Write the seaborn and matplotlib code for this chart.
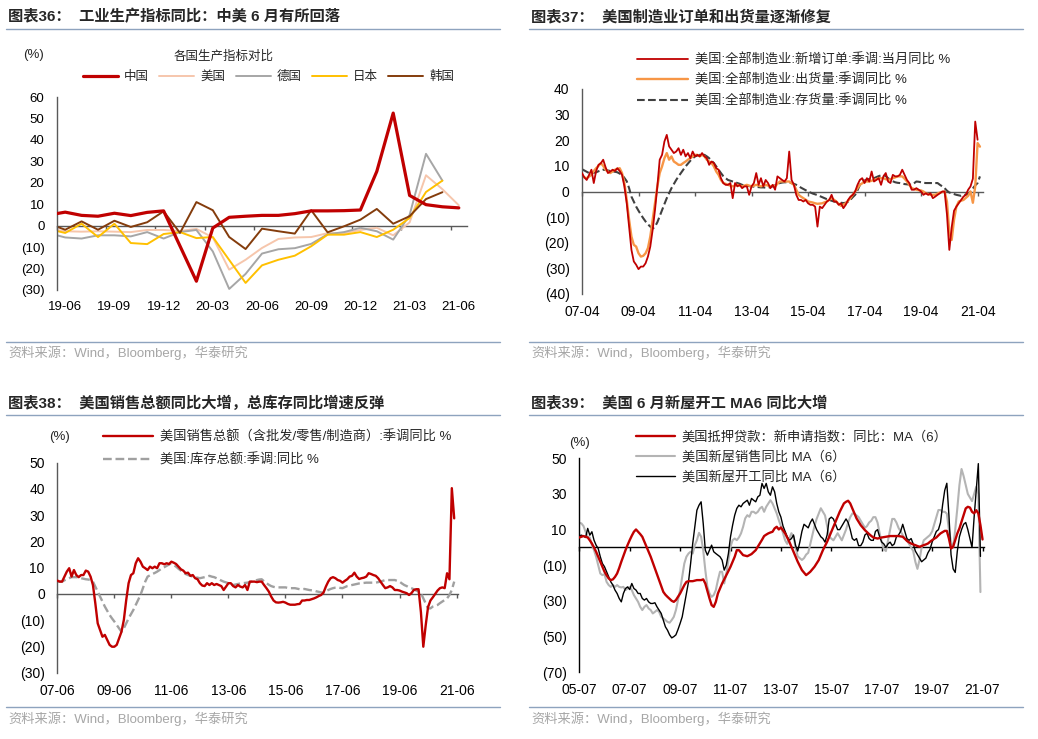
import numpy as np
import pandas as pd
import matplotlib
matplotlib.use("Agg")
import matplotlib.pyplot as plt
import seaborn as sns
from matplotlib.lines import Line2D
from matplotlib.ticker import FuncFormatter

# ---------------- data ----------------
# Panel 36 : industrial production YoY (monthly, 19-05 .. 21-06)
p1_months = ['19-05', '19-06', '19-07', '19-08', '19-09', '19-10', '19-11', '19-12',
             '20-01', '20-02', '20-03', '20-04', '20-05', '20-06', '20-07', '20-08',
             '20-09', '20-10', '20-11', '20-12', '21-01', '21-02', '21-03', '21-04',
             '21-05', '21-06']
p1_ticklabels = ['19-06', '19-09', '19-12', '20-03', '20-06', '20-09', '20-12', '21-03', '21-06']
p1_china = [5.0, 6.3, 4.8, 4.4, 5.8, 4.7, 6.2, 6.9, None, -25.9, -1.1, 3.9, 4.4, 4.8, 4.8, 5.6,
            6.9, 6.9, 7.0, 7.3, 25.3, 52.5, 14.1, 9.8, 8.8, 8.3]
p1_usa = [-1.4, -2.6, -2.8, -2.6, -2.8, -3.0, -2.0, -2.0, -2.5, -1.5, -5.5, -20.5, -15.9, -10.4,
          -6.2, -5.5, -5.3, -3.5, -3.5, -2.0, -1.0, -4.5, 1.5, 23.5, 17.0, 9.5]
p1_germany = [-3.5, -5.5, -6.0, -4.5, -4.5, -5.0, -3.0, -6.0, -3.0, -2.0, -12.0, -29.5, -22.5,
              -13.0, -11.0, -10.5, -8.5, -4.0, -3.0, -1.0, -2.6, -6.5, 5.0, 33.5, 21.0, None]
p1_japan = [-1.6, -3.4, 0.9, -5.3, 0.9, -8.1, -8.6, -3.9, -3.0, -5.8, -5.3, -16.0, -26.7, -18.5,
            -15.9, -14.0, -9.6, -4.2, -4.2, -3.0, -5.3, -1.9, 3.6, 15.7, 21.0, None]
p1_korea = [0.9, -1.9, 2.0, -1.9, 2.3, -0.6, 1.6, 6.7, -3.4, 11.0, 7.2, -5.3, -10.9, -1.4, -2.6,
            -3.7, 7.2, -3.1, -0.3, 2.8, 7.8, 0.9, 4.4, 12.4, 15.6, None]
p1_names = ['中国', '美国', '德国', '日本', '韩国']

# Panel 37 : US manufacturing orders / shipments / inventories YoY (monthly from 2007-04)
p2_ticklabels = ['07-04', '09-04', '11-04', '13-04', '15-04', '17-04', '19-04', '21-04']
p2_orders = [7.2, 5.5, 4.5, 6.5, 8.5, 3.3, 8.0, 10.4, 11.0, 12.4, 9.5, 7.2, 7.8, 8.5, 8.0, 9.1,
             8.0, 6.5, 2.0, -4.6, -13.7, -22.8, -27.3, -28.6, -30.3, -29.3, -29.3, -28.0, -25.4,
             -21.5, -15.0, -7.2, 2.0, 12.4, 14.3, 19.5, 22.1, 17.6, 16.3, 15.0, 15.6, 16.9, 14.3,
             16.3, 13.7, 15.0, 13.0, 15.6, 13.7, 14.3, 13.7, 15.0, 13.7, 13.0, 10.4, 11.7, 11.1,
             9.1, 8.5, 5.2, 3.3, 2.6, 2.6, 3.3, -2.6, 3.3, 2.0, 2.6, 1.3, 2.0, 2.0, -1.3, 2.0,
             3.3, 7.2, 2.6, 5.2, 2.0, 4.5, 3.3, 1.3, 2.6, 0.7, 5.9, 5.2, 4.5, 3.9, 5.2, 15.6, 4.5,
             2.6, -1.3, -3.3, -3.3, -3.9, -3.3, -4.6, -5.2, -5.2, -5.9, -13.7, -5.9, -6.5, -5.2,
             -3.9, -3.3, -1.3, -3.9, -3.9, -5.2, -4.6, -6.5, -5.2, -3.3, -2.0, -1.3, 0.0, 2.6, 4.5,
             5.2, 3.3, 5.2, 3.9, 7.8, 3.9, 4.5, 5.2, 2.6, 5.9, 7.2, 3.9, 3.3, 6.5, 5.9, 5.9, 6.5,
             8.5, 6.5, 4.5, 3.3, 0.7, 0.7, 1.3, 0.7, 0.0, -1.3, -0.7, -1.3, -0.7, -2.6, -2.0, -1.3,
             -0.7, 0.0, 0.0, -9.0, -22.8, -14.0, -7.5, -5.9, -4.6, -3.3, -2.0, -1.3, 0.7, 2.0, 5.0,
             27.3, 20.2]
p2_shipments = [5.9, 5.5, 5.2, 5.8, 6.5, 8.0, 9.1, 10.0, 11.1, 10.0, 8.5, 7.8, 7.2, 7.8, 8.5,
                8.8, 9.1, 7.2, 3.3, -3.3, -11.0, -17.6, -20.8, -21.5, -24.1, -25.4, -25.1, -24.1,
                -22.1, -17.6, -11.0, -4.6, 2.0, 7.2, 9.8, 13.0, 15.0, 12.4, 13.7, 11.7, 11.1, 10.4,
                10.4, 11.1, 11.7, 12.4, 13.0, 13.7, 14.3, 14.3, 13.7, 14.3, 13.7, 12.4, 11.7, 11.1,
                9.8, 7.8, 6.5, 4.5, 3.3, 3.0, 2.6, 2.3, 2.0, 2.3, 2.6, 2.3, 2.0, 2.3, 2.6, 2.3, 2.0,
                2.3, 2.6, 2.3, 2.0, 2.3, 2.6, 2.3, 2.0, 2.3, 2.0, 3.0, 3.9, 3.9, 3.9, 3.9, 3.9, 3.2,
                2.6, 0.7, -1.3, -2.0, -2.6, -3.2, -3.9, -4.1, -4.3, -4.6, -4.8, -4.7, -4.6, -4.2,
                -3.9, -3.2, -2.6, -3.2, -3.9, -4.8, -5.6, -5.1, -4.6, -3.6, -2.6, -1.3, 0.0, 1.3,
                2.6, 3.2, 3.9, 3.9, 3.9, 4.2, 4.5, 4.8, 5.2, 5.2, 5.2, 4.8, 4.5, 4.8, 5.2, 5.5, 5.9,
                5.9, 5.9, 5.0, 3.9, 2.6, 1.3, 1.0, 0.7, 0.5, 0.4, 0.0, -0.7, -1.0, -1.3, -1.3, -1.3,
                -0.8, -0.4, -0.2, 0.0, -4.0, -16.0, -18.9, -11.0, -5.9, -3.9, -3.6, -3.3, -2.5,
                -1.7, 0.0, -4.4, 2.0, 18.9, 17.5]
p2_inventory = [8.7, 8.2, 7.7, 7.2, 7.2, 7.3, 7.5, 7.9, 8.2, 8.5, 8.4, 8.2, 8.0, 7.8, 7.7, 7.5,
                7.0, 6.5, 5.3, 4.0, 1.3, -2.0, -4.0, -5.9, -7.5, -9.0, -10.4, -11.7, -12.8, -13.7,
                -14.5, -13.7, -12.0, -9.6, -7.2, -4.9, -2.6, -0.6, 1.3, 2.9, 4.5, 5.9, 7.2, 8.5,
                9.8, 10.9, 12.0, 12.9, 13.7, 14.0, 14.3, 14.3, 14.3, 13.7, 13.0, 12.0, 11.1, 9.8,
                8.5, 7.2, 6.0, 5.2, 4.5, 4.2, 3.9, 3.6, 3.3, 3.0, 2.6, 2.4, 2.2, 2.1, 2.0, 1.9, 1.8,
                1.7, 1.6, 1.6, 1.5, 1.6, 1.7, 2.0, 2.4, 2.9, 3.3, 3.5, 3.6, 3.6, 3.5, 3.3, 3.0, 2.6,
                2.1, 1.5, 1.0, 0.5, 0.0, -0.4, -0.8, -1.1, -1.4, -1.8, -2.2, -2.6, -3.0, -3.3, -3.6,
                -3.9, -4.1, -4.3, -4.4, -4.5, -4.4, -4.0, -3.2, -2.2, -1.3, 0.5, 2.5, 3.9, 4.3, 4.6,
                4.9, 5.0, 5.2, 5.6, 6.0, 6.3, 6.5, 6.0, 5.2, 4.5, 4.0, 3.6, 3.4, 3.3, 3.1, 2.9, 2.8,
                2.7, 2.6, 3.2, 3.9, 3.8, 3.6, 3.4, 3.3, 3.3, 3.3, 3.3, 3.3, 3.3, 2.6, 2.0, 1.3, 0.3,
                -0.4, -0.7, -1.0, -1.3, -1.5, -1.7, -1.5, -1.2, -0.9, 0.0, 1.2, 2.4, 3.3, 5.9]
p2_names = ['美国:全部制造业:新增订单:季调:当月同比 %',
            '美国:全部制造业:出货量:季调同比 %',
            '美国:全部制造业:存货量:季调同比 %']

# Panel 38 : US total business sales / inventories YoY (monthly from 2007-06)
p3_ticklabels = ['07-06', '09-06', '11-06', '13-06', '15-06', '17-06', '19-06', '21-06']
p3_sales = [5.1, 4.7, 4.7, 6.6, 8.5, 9.8, 6.6, 9.1, 7.2, 6.4, 7.2, 7.2, 8.9, 8.5, 6.6, 3.4, -3.6,
            -11.2, -13.7, -16.3, -15.6, -17.5, -19.4, -20.1, -20.1, -19.4, -16.9, -14.4, -9.9,
            -2.3, 4.1, 7.2, 7.9, 11.7, 13.6, 12.3, 10.4, 9.8, 9.1, 10.4, 9.8, 10.4, 9.8, 11.7,
            11.7, 11.3, 11.7, 11.4, 12.3, 11.9, 11.4, 10.4, 9.4, 8.9, 7.9, 8.1, 6.9, 7.2, 6.0,
            5.6, 4.1, 3.2, 3.0, 4.1, 3.4, 4.1, 3.4, 3.8, 3.4, 3.0, 1.5, 2.8, 4.1, 4.1, 3.0, 2.5,
            3.4, 2.8, 2.5, 3.4, 1.5, 4.7, 4.7, 4.7, 4.5, 4.7, 4.7, 3.4, 2.2, 0.9, -1.0, -2.5, -3.2,
            -3.3, -3.2, -3.0, -3.3, -3.8, -4.1, -4.1, -4.1, -3.9, -3.8, -2.5, -2.5, -2.3, -2.3,
            -2.0, -1.7, -1.3, -0.8, -0.4, 0.5, 2.8, 4.7, 6.0, 6.4, 6.0, 5.3, 5.0, 4.3, 5.0, 5.6,
            6.6, 6.9, 8.1, 6.6, 5.7, 6.0, 6.2, 6.6, 7.9, 7.6, 7.2, 6.9, 6.0, 4.7, 3.4, 2.2, 2.5,
            3.0, 2.5, 1.5, 1.5, 1.3, 0.9, 0.6, 0.3, -0.4, 0.3, 1.5, 1.8, 1.8, -7.0, -20.1, -12.0,
            -5.0, -2.5, -1.3, 0.0, 1.3, 2.2, 2.5, 2.2, 7.9, 5.6, 40.3, 28.8]
p3_inventory = [4.7, 4.7, 4.7, 5.2, 5.6, 6.0, 6.4, 6.4, 6.4, 6.2, 6.0, 5.8, 5.6, 5.5, 5.3, 4.7,
                2.8, 0.9, -1.0, -2.9, -4.8, -6.4, -8.0, -9.3, -10.5, -11.8, -13.1, -14.4, -13.1,
                -11.2, -9.3, -7.7, -6.1, -4.2, -2.3, -0.4, 2.2, 4.7, 6.6, 7.1, 7.6, 8.0, 8.5, 9.1,
                9.8, 10.2, 10.7, 11.2, 11.7, 11.0, 10.4, 9.6, 8.9, 8.2, 7.6, 7.2, 6.9, 6.6, 6.4, 6.2,
                6.0, 6.2, 6.4, 6.6, 6.9, 6.6, 6.4, 6.0, 5.6, 5.1, 4.7, 4.4, 4.1, 3.7, 3.4, 3.6, 3.8,
                4.0, 4.1, 4.2, 4.3, 4.5, 4.7, 5.0, 5.3, 5.5, 5.6, 4.8, 4.1, 3.5, 3.0, 2.7, 2.5, 2.5,
                2.5, 2.5, 2.5, 2.3, 2.2, 2.2, 2.2, 2.0, 1.8, 1.8, 1.9, 1.7, 1.5, 1.4, 1.3, 1.0, 0.8,
                0.6, 0.5, 1.0, 1.5, 1.9, 2.2, 2.4, 2.5, 2.3, 2.2, 2.6, 3.0, 3.2, 3.4, 3.6, 3.8, 4.0,
                4.1, 4.2, 4.3, 4.3, 4.3, 4.3, 4.3, 4.5, 4.7, 5.0, 5.3, 5.3, 5.3, 5.3, 5.3, 5.0, 4.7,
                4.0, 3.4, 3.0, 2.5, 2.2, 1.8, 1.3, 0.9, 0.3, -1.7, -3.6, -5.5, -5.5, -4.8, -4.5,
                -4.2, -3.5, -2.9, -2.3, -1.7, -0.4, 1.5, 4.7]
p3_names = ['美国销售总额（含批发/零售/制造商）:季调同比 %', '美国:库存总额:季调:同比 %']

# Panel 39 : US housing YoY, 6-month moving average (monthly from 2005-07)
p4_ticklabels = ['05-07', '07-07', '09-07', '11-07', '13-07', '15-07', '17-07', '19-07', '21-07']
p4_mortgage = [5.6, 6.0, 6.4, 6.0, 5.6, 4.0, 2.2, 0.0, -2.4, -5.2, -8.0, -10.8, -13.6, -15.6,
               -17.4, -18.3, -17.9, -16.5, -14.6, -11.5, -8.0, -4.8, -1.5, 1.4, 4.1, 6.6, 8.8,
               10.1, 8.8, 7.5, 6.0, 3.2, 0.4, -2.4, -5.2, -8.5, -11.8, -15.0, -18.3, -21.6, -24.9,
               -26.5, -27.7, -28.8, -29.9, -30.5, -29.5, -27.7, -25.8, -23.5, -21.1, -19.3, -18.9,
               -18.9, -18.9, -18.6, -18.3, -18.3, -18.3, -17.9, -20.2, -24.4, -28.6, -32.3, -33.3,
               -30.5, -25.8, -23.0, -20.2, -17.9, -15.5, -13.2, -10.8, -8.0, -5.2, -1.5, -1.5,
               -2.9, -4.3, -4.6, -4.9, -4.3, -3.7, -2.6, -1.5, 0.4, 2.2, 4.3, 6.4, 7.2, 7.9, 8.4,
               8.8, 10.7, 11.6, 10.1, 11.2, 9.6, 7.9, 5.6, 3.2, 0.4, -2.4, -5.2, -8.0, -10.4,
               -12.7, -14.1, -15.5, -14.6, -13.6, -12.2, -10.8, -9.0, -7.1, -4.3, -1.5, 0.9, 3.2,
               6.0, 8.8, 11.6, 14.4, 17.2, 20.0, 22.4, 24.7, 25.6, 26.2, 24.7, 21.9, 19.1, 16.3,
               14.4, 12.5, 11.1, 9.7, 8.6, 7.5, 6.5, 5.6, 5.3, 5.0, 5.3, 5.6, 5.8, 6.0, 6.2, 6.4,
               6.4, 6.4, 6.4, 6.4, 6.2, 6.0, 4.9, 3.7, 2.9, 2.2, 1.7, 1.3, 0.8, 0.4, 0.8, 1.3, 1.7,
               2.2, 3.2, 4.1, 4.9, 5.6, 6.8, 7.9, 8.6, 9.3, 9.3, 5.0, -0.6, 0.4, 4.1, 7.9, 10.7,
               14.4, 18.1, 21.9, 22.8, 22.4, 20.0, 19.1, 20.9, 19.1, 12.5, 4.5]
p4_sales = [13.8, 13.5, 12.0, 8.8, 6.0, 5.6, 1.3, -1.5, -5.2, -9.9, -14.6, -15.5, -15.0, -19.3,
            -21.1, -22.1, -21.1, -22.1, -21.1, -22.1, -22.4, -22.1, -23.9, -23.0, -22.1, -23.9,
            -26.7, -28.6, -30.5, -33.3, -35.1, -33.3, -32.3, -34.2, -35.1, -37.0, -36.1, -35.1,
            -36.1, -38.9, -39.8, -40.7, -41.7, -42.2, -40.7, -38.9, -35.1, -29.5, -23.9, -16.4,
            -9.0, -5.2, -3.4, -2.4, -3.4, 1.3, 4.1, 8.2, 6.0, -1.5, -12.7, -22.1, -25.8, -27.7,
            -26.7, -23.9, -18.3, -13.6, -13.6, -20.2, -14.6, -7.1, 0.4, 4.1, 5.0, 4.1, 5.6, 7.9,
            11.6, 16.3, 18.1, 17.2, 20.0, 20.0, 19.1, 20.0, 21.9, 22.8, 20.0, 22.8, 24.7, 26.5,
            24.7, 21.9, 19.1, 15.3, 12.0, 8.0, 4.0, 2.0, 5.0, 8.0, 6.0, 0.0, -5.0, -6.0, -7.0,
            -6.0, -4.0, -3.0, 2.0, 7.0, 12.0, 16.0, 19.0, 22.0, 20.0, 18.0, 12.0, 6.0, 5.0, 4.0,
            6.0, 8.0, 6.0, 4.0, 7.0, 10.0, 14.0, 17.0, 19.0, 19.0, 18.0, 17.0, 15.0, 13.0, 11.0,
            12.0, 14.0, 15.0, 17.0, 17.0, 14.0, 8.0, 3.0, -1.0, -2.0, 4.0, 10.0, 16.0, 16.0,
            14.0, 11.0, 9.0, 7.0, 5.0, 4.0, 2.0, 0.0, -2.0, -8.0, -12.0, -7.0, 0.0, 4.0, 5.0,
            6.0, 7.0, 9.0, 13.0, 17.0, 21.0, 21.0, 20.0, 20.0, 19.0, 10.0, 3.0, 0.0, 10.0, 22.0,
            35.0, 44.0, 40.0, 35.0, 30.0, 28.0, 26.0, 30.0, 34.0, 30.0, -25.0]
p4_starts = [6.5, 6.9, 6.4, 5.6, 10.7, 6.9, 8.8, 4.1, 1.3, -0.6, -5.2, -9.0, -10.8, -13.6, -16.4,
             -19.3, -21.1, -23.9, -25.8, -28.6, -30.5, -25.8, -23.0, -22.1, -23.6, -20.2, -23.0,
             -23.9, -25.8, -25.8, -28.6, -29.5, -28.6, -30.5, -31.4, -31.4, -31.0, -33.3, -35.1,
             -37.0, -40.7, -44.5, -46.4, -49.0, -50.7, -50.0, -49.0, -46.0, -42.6, -38.9, -32.3,
             -25.8, -19.3, -9.0, 2.2, 11.6, 20.9, 23.7, 25.6, 13.5, -1.5, -4.3, -1.5, 1.3, -2.4,
             -3.4, -4.3, -5.2, -7.1, -12.7, -9.9, -3.4, 6.0, 12.5, 18.1, 21.9, 23.7, 22.8, 24.7,
             25.6, 26.5, 23.7, 27.5, 26.5, 25.6, 28.4, 29.3, 35.9, 33.1, 35.9, 31.2, 29.3, 34.0,
             31.2, 24.7, 20.0, 17.0, 12.0, 9.0, 6.0, 4.0, 5.0, 7.0, 1.0, -2.0, 3.0, 9.0, 13.0,
             12.0, 11.0, 14.0, 16.0, 13.0, 10.0, 8.0, 6.0, 5.0, 3.0, 7.0, 16.0, 17.0, 16.0, 13.0,
             10.0, 10.0, 12.0, 14.0, 16.0, 14.0, 10.0, 5.0, 4.0, 5.0, 1.0, 1.0, 3.0, 7.0, 8.0,
             5.0, 4.0, 4.0, 9.0, 10.0, 6.0, 3.0, 2.0, 0.0, 2.0, 3.0, 1.0, 2.0, 6.0, 7.0, 9.0,
             13.0, 9.0, 5.0, 4.0, 5.0, 2.0, -2.0, -4.0, -6.0, -8.0, -7.0, -6.0, -3.0, -1.0, 3.0,
             6.0, 9.0, 10.0, 14.0, 24.0, 32.0, 36.0, 18.0, -4.0, -12.0, -14.0, -2.0, 6.0, 10.0,
             13.0, 14.0, 10.0, 5.0, 0.0, 17.0, 32.0, 47.0, -5.0]
p4_names = ['美国抵押贷款：新申请指数：同比：MA（6）', '美国新屋销售同比 MA（6）', '美国新屋开工同比 MA（6）']

titles = ['图表36：  工业生产指标同比：中美 6 月有所回落',
          '图表37：  美国制造业订单和出货量逐渐修复',
          '图表38：  美国销售总额同比大增，总库存同比增速反弹',
          '图表39：  美国 6 月新屋开工 MA6 同比大增']
source = '资料来源：Wind，Bloomberg，华泰研究'

# ---------------- style ----------------
sns.set_style('white')
plt.rcParams['font.family'] = ['Liberation Sans', 'Noto Sans CJK SC', 'DejaVu Sans']
plt.rcParams['axes.unicode_minus'] = False

W, H = 1038, 739
fig = plt.figure(figsize=(W / 100, H / 100), dpi=100)


def fx(px):
    return px / W


def fy(py):
    return 1 - py / H


def paren(v, pos=None):
    return f'({abs(v):g})' if v < 0 else f'{v:g}'


def add_axes(l, t, r, b):
    return fig.add_axes([fx(l), fy(b), fx(r) - fx(l), fy(t) - fy(b)])


def style(ax, ylim, yticks, xlim, lab_pos, labels, zero_ticks, col, fs):
    ax.set_xlim(*xlim)
    ax.set_ylim(*ylim)
    ax.set_yticks(yticks)
    ax.yaxis.set_major_formatter(FuncFormatter(paren))
    ax.set_xticks(lab_pos)
    ax.set_xticklabels(labels)
    ax.tick_params(axis='x', length=0, pad=8, labelsize=fs, colors='black')
    ax.tick_params(axis='y', direction='out', length=3, width=1, color=col, pad=6,
                   labelsize=fs, labelcolor='black')
    for s in ['top', 'right', 'bottom']:
        ax.spines[s].set_visible(False)
    ax.spines['left'].set_color(col)
    ax.spines['left'].set_linewidth(1)
    ax.set_xlabel('')
    ax.set_ylabel('')
    ax.grid(False)
    zero = (0 - ylim[0]) / (ylim[1] - ylim[0])
    sec = ax.secondary_xaxis(zero)
    sec.set_alignment('bottom')
    sec.set_xticks(zero_ticks)
    sec.tick_params(axis='x', direction='out', length=3, width=1, color=col,
                    labelbottom=False, labeltop=False)
    for s in sec.spines.values():
        s.set_color(col)
        s.set_linewidth(1)
    return sec


def header(x0, x1, y_title, y_line, text):
    fig.text(fx(x0 + 2), fy(y_title), text, fontsize=11, fontweight='bold',
             va='center', ha='left', family=['Liberation Sans', 'Noto Sans CJK SC'])
    fig.add_artist(Line2D([fx(x0), fx(x1)], [fy(y_line), fy(y_line)], color='#8EA3BE', lw=1))


def footer(x0, x1, y_line, y_text):
    fig.add_artist(Line2D([fx(x0), fx(x1)], [fy(y_line), fy(y_line)], color='#8EA3BE', lw=1))
    fig.text(fx(x0 + 2), fy(y_text), source, fontsize=9.5, color='#A6A6A6', va='center', ha='left')


def legend(ax, x, ytop, fs, hl, ls, ncol=1, cs=1.0):
    h, l = ax.get_legend_handles_labels()
    ax.legend(h, l, loc='upper left', bbox_to_anchor=(fx(x), fy(ytop)),
              bbox_transform=fig.transFigure, frameon=False, borderpad=0, borderaxespad=0,
              handlelength=hl, handletextpad=0.5, labelspacing=ls, fontsize=fs, ncol=ncol,
              columnspacing=cs)


# ---------------- panel 36 ----------------
header(6, 500, 17, 29.3, titles[0])
footer(6, 500, 342.3, 353)
ax1 = add_axes(57, 97, 467, 290)
p1 = pd.DataFrame({'x': np.arange(len(p1_months)), 'china': p1_china, 'usa': p1_usa,
                   'germany': p1_germany, 'japan': p1_japan, 'korea': p1_korea}, dtype=float)
p1_cols = ['china', 'usa', 'germany', 'japan', 'korea']
p1_colors = ['#C00000', '#F6C6AC', '#A6A6A6', '#FFC000', '#843C0C']
p1_lw = [2.3, 1.4, 1.4, 1.4, 1.4]
for c, name, colr, lw in zip(p1_cols, p1_names, p1_colors, p1_lw):
    d = p1[['x', c]].dropna()
    sns.lineplot(x=d['x'], y=d[c], ax=ax1, color=colr, linewidth=lw, label=name,
                 estimator=None, sort=False, zorder=3 if c == 'china' else 2)
lab_idx = [p1_months.index(t) for t in p1_ticklabels]
style(ax1, (-30, 60), list(range(-30, 61, 10)), (0.5, len(p1_months) - 0.5), lab_idx,
      p1_ticklabels, [i - 0.5 for i in lab_idx], '#595959', 9.5)
legend(ax1, 83, 71, 9, 2.8, 0.5, ncol=5, cs=0.8)
fig.text(fx(34), fy(55), '(%)', fontsize=9.5, ha='center', va='center')
fig.text(fx(224), fy(57), '各国生产指标对比', fontsize=9, ha='center', va='center')

# ---------------- panel 37 ----------------
header(529, 1023, 17, 29.3, titles[1])
footer(529, 1023, 342.3, 353)
ax2 = add_axes(582, 89, 983, 294)
for vals, name, colr, lw, lsty, z in [(p2_orders, p2_names[0], '#C00000', 1.3, '-', 3),
                                     (p2_shipments, p2_names[1], '#F79646', 1.7, '-', 2),
                                     (p2_inventory, p2_names[2], '#404040', 1.5, '--', 1)]:
    sns.lineplot(x=np.arange(len(vals)), y=vals, ax=ax2, color=colr, linewidth=lw,
                 linestyle=lsty, label=name, estimator=None, sort=False, zorder=z)
pos2 = [24 * i for i in range(len(p2_ticklabels))]
style(ax2, (-40, 40), list(range(-40, 41, 10)), (0, 170.3), pos2, p2_ticklabels, pos2,
      '#595959', 10)
legend(ax2, 636.7, 53, 9.5, 3.9, 0.55)

# ---------------- panel 38 ----------------
header(6, 500, 403, 415, titles[2])
footer(6, 500, 707.3, 719)
ax3 = add_axes(57.3, 462.7, 458, 672.7)
for vals, name, colr, lw, lsty, z in [(p3_sales, p3_names[0], '#C00000', 1.7, '-', 3),
                                     (p3_inventory, p3_names[1], '#A0A0A0', 1.7, '--', 2)]:
    sns.lineplot(x=np.arange(len(vals)), y=vals, ax=ax3, color=colr, linewidth=lw,
                 linestyle=lsty, label=name, estimator=None, sort=False, zorder=z)
pos3 = [24 * i for i in range(len(p3_ticklabels))]
style(ax3, (-30, 50), list(range(-30, 51, 10)), (0, 168.6), pos3, p3_ticklabels, pos3,
      '#595959', 10)
legend(ax3, 103, 430, 9.5, 3.8, 0.8)
fig.text(fx(60), fy(437.5), '(%)', fontsize=9.5, ha='center', va='center')

# ---------------- panel 39 ----------------
header(529, 1023, 403, 415, titles[3])
footer(529, 1023, 707.3, 719)
ax4 = add_axes(579.3, 458.3, 984, 672.3)
for vals, name, colr, lw, z in [(p4_mortgage, p4_names[0], '#C00000', 1.7, 3),
                               (p4_sales, p4_names[1], '#B4B4B4', 1.5, 1),
                               (p4_starts, p4_names[2], '#000000', 1.0, 2)]:
    sns.lineplot(x=np.arange(len(vals)), y=vals, ax=ax4, color=colr, linewidth=lw,
                 label=name, estimator=None, sort=False, zorder=z)
pos4 = [24 * i for i in range(len(p4_ticklabels))]
style(ax4, (-70, 50), [50, 30, 10, -10, -30, -50, -70], (0, 192.7), pos4, p4_ticklabels, pos4,
      '#000000', 10)
legend(ax4, 636, 430.5, 9.5, 2.95, 0.58)
fig.text(fx(579), fy(443), '(%)', fontsize=9.5, ha='center', va='center')

fig.savefig('out.png', dpi=100, facecolor='white')
